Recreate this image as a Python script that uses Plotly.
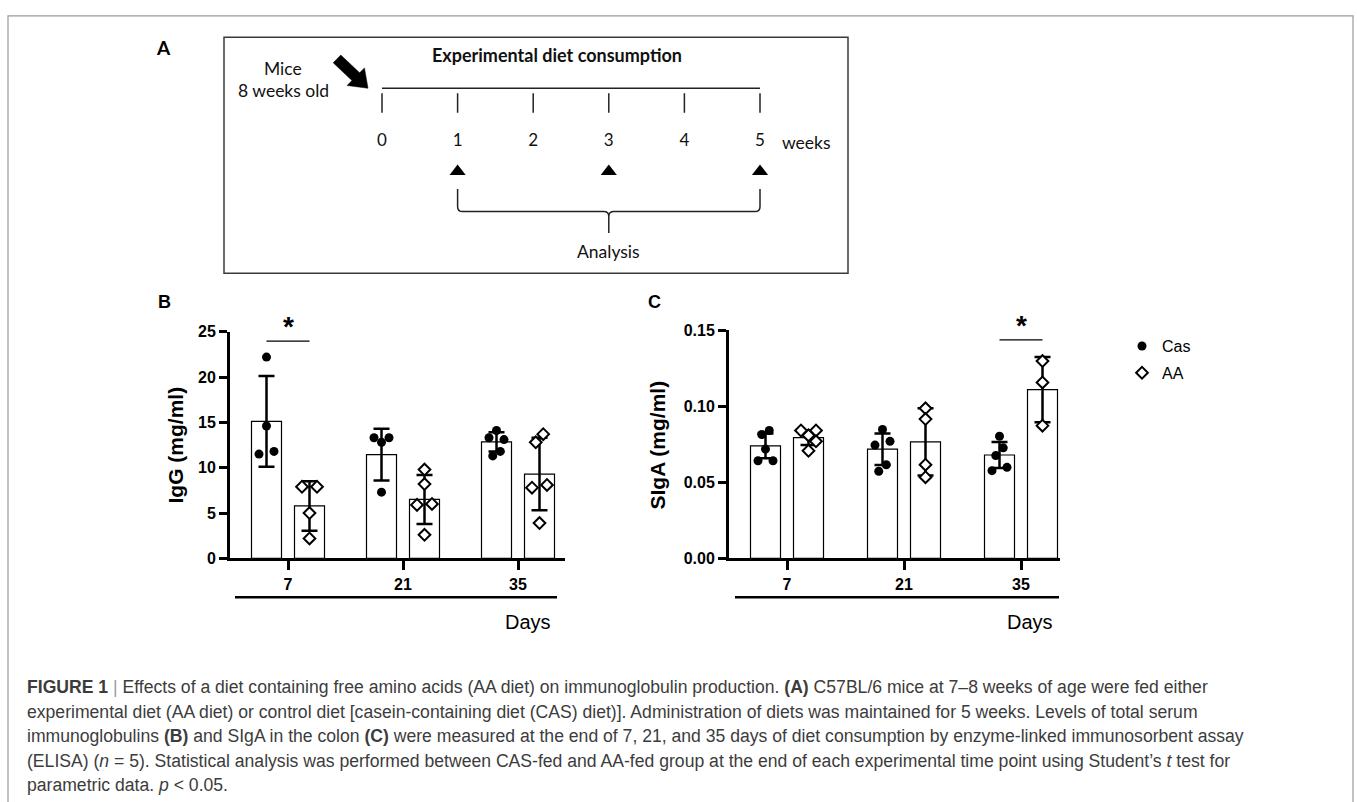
import numpy as np
import plotly.graph_objects as go

# ---------------- data ----------------
days = ["7", "21", "35"]
groups = ["Cas", "AA"]

igg_mean_cas = [15.1, 11.45, 12.85]
igg_sd_cas = [5.0, 2.85, 1.05]
igg_mean_aa = [5.78, 6.5, 9.3]
igg_sd_aa = [2.72, 2.7, 4.0]
igg_pts_cas = [[22.2, 14.6, 11.8, 11.5], [12.8, 13.3, 13.3, 7.3], [14.1, 13.3, 13.1, 11.8, 11.3]]
igg_pts_aa = [[7.9, 7.9, 5.0, 2.2], [9.8, 8.2, 6.0, 5.9, 2.6], [13.7, 12.8, 8.1, 7.8, 3.9]]

siga_mean_cas = [0.0740, 0.0718, 0.0680]
siga_sd_cas = [0.0082, 0.0104, 0.0086]
siga_mean_aa = [0.0794, 0.0766, 0.1110]
siga_sd_aa = [0.0048, 0.0221, 0.0214]
siga_pts_cas = [[0.0841, 0.0815, 0.0719, 0.0642, 0.0642], [0.0848, 0.0770, 0.0745, 0.0616, 0.0573],
                [0.0803, 0.0727, 0.0676, 0.0599, 0.0577]]
siga_pts_aa = [[0.0841, 0.0841, 0.0809, 0.0770, 0.0708], [0.0987, 0.0916, 0.0616, 0.0534],
               [0.1298, 0.1157, 0.0873]]

sig_igg = [True, False, False]
sig_siga = [False, False, True]

weeks = [0, 1, 2, 3, 4, 5]
analysis_weeks = [1, 3, 5]

caption_lines = [
    "<b>FIGURE 1</b> <span style='color:#9a9a9a'>|</span> Effects of a diet containing free amino acids (AA diet) on immunoglobulin production. <b>(A)</b> C57BL/6 mice at 7–8 weeks of age were fed either",
    "experimental diet (AA diet) or control diet [casein-containing diet (CAS) diet)]. Administration of diets was maintained for 5 weeks. Levels of total serum",
    "immunoglobulins <b>(B)</b> and SIgA in the colon <b>(C)</b> were measured at the end of 7, 21, and 35 days of diet consumption by enzyme-linked immunosorbent assay",
    "(ELISA) (<i>n</i> = 5). Statistical analysis was performed between CAS-fed and AA-fed group at the end of each experimental time point using Student’s <i>t</i> test for",
    "parametric data. <i>p</i> &lt; 0.05.",
]

# ---------------- layout helpers ----------------
W, H = 1357, 802
ARIAL = "Liberation Sans, Arial, sans-serif"
CALIBRI = "Lato, Open Sans, sans-serif"


def pxx(x):
    return x / W


def pxy(y):
    return 1 - y / H


fig = go.Figure()
shapes = []
annotations = []


def note(x, y, text, font, **kw):
    d = dict(xref="paper", yref="paper", x=pxx(x), y=pxy(y), text=text, showarrow=False,
             xanchor="center", yanchor="middle", font=font)
    d.update(kw)
    annotations.append(d)


panels = [
    dict(name="B", xa="x", ya="y", xax="xaxis", yax="yaxis", left=230, right=565, tick0=288, unit=115,
         y0=562.3, ytop=330.7, ymax=25, dtick=5, fmt="d", title="IgG (mg/ml)", title_x=176,
         label_x=164, mc=igg_mean_cas, sc=igg_sd_cas, ma=igg_mean_aa, sa=igg_sd_aa,
         pc=igg_pts_cas, pa=igg_pts_aa, sig=sig_igg, days_line=(235, 557), days_x=528, legend=True),
    dict(name="C", xa="x2", ya="y2", xax="xaxis2", yax="yaxis2", left=729, right=1060, tick0=787, unit=117,
         y0=562.3, ytop=329.3, ymax=0.15, dtick=0.05, fmt=".2f", title="SIgA (mg/ml)", title_x=658,
         label_x=654, mc=siga_mean_cas, sc=siga_sd_cas, ma=siga_mean_aa, sa=siga_sd_aa,
         pc=siga_pts_cas, pa=siga_pts_aa, sig=sig_siga, days_line=(735, 1059), days_x=1030, legend=False),
]

BAR_W = 30.0   # px
BAR_OFF = 21.5  # px, bar centre distance from tick


def swarm(vals, ppu, h=7.5, d=8.5):
    vals = list(vals)
    n = len(vals)
    offs = [0.0] * n
    placed = []
    for i in sorted(range(n), key=lambda k: -vals[k]):
        y = vals[i] * ppu
        xo = 0.0
        for k in [0, -1, 1, -2, 2, -3, 3]:
            xo = k * h
            if all(np.hypot(xo - a, y - b) >= d - 1e-6 for a, b in placed):
                break
        placed.append((xo, y))
        offs[i] = xo
    order = sorted(range(n), key=lambda k: vals[k])
    clusters = [[order[0]]]
    for a, b in zip(order[:-1], order[1:]):
        if (vals[b] - vals[a]) * ppu < d:
            clusters[-1].append(b)
        else:
            clusters.append([b])
    for c in clusters:
        o = [offs[i] for i in c]
        sh = -(max(o) + min(o)) / 2
        for i in c:
            offs[i] += sh
    return offs


for p in panels:
    unit = p["unit"]
    ppu = (p["y0"] - p["ytop"]) / p["ymax"]
    idx = np.arange(len(days))
    xr = [(p["left"] - p["tick0"]) / unit, (p["right"] - p["tick0"]) / unit]
    bw = BAR_W / unit
    off = BAR_OFF / unit
    fig.layout[p["xax"]] = dict(
        domain=[pxx(p["left"]), pxx(p["right"])], range=xr, anchor=p["ya"],
        tickvals=list(idx), ticktext=days, showline=True, linewidth=3, linecolor="black",
        ticks="outside", ticklen=9, tickwidth=3, tickcolor="black", showgrid=False, zeroline=False,
        tickfont=dict(family=ARIAL, size=16, color="black", weight="bold"), fixedrange=True)
    fig.layout[p["yax"]] = dict(
        domain=[pxy(p["y0"]), pxy(p["ytop"])], range=[0, p["ymax"]], anchor=p["xa"],
        dtick=p["dtick"], tick0=0, tickformat=p["fmt"], showline=True, linewidth=3, linecolor="black",
        ticks="outside", ticklen=8, tickwidth=3, tickcolor="black", showgrid=False, zeroline=False,
        tickfont=dict(family=ARIAL, size=16, color="black", weight="bold"), fixedrange=True)

    series = [
        ("Cas", -off, p["mc"], p["sc"], p["pc"],
         dict(symbol="circle", size=9, color="black", line=dict(width=0))),
        ("AA", off, p["ma"], p["sa"], p["pa"],
         dict(symbol="diamond", size=9, color="white", line=dict(width=2, color="black"))),
    ]
    for name, o, mean, sd, pts, mk in series:
        fig.add_trace(go.Bar(
            x=idx, y=mean, offset=o - bw / 2, width=bw, xaxis=p["xa"], yaxis=p["ya"],
            marker=dict(color="white", line=dict(color="black", width=1.2)),
            showlegend=False, hoverinfo="skip"))
        fig.add_trace(go.Scatter(
            x=idx + o, y=mean, mode="markers", xaxis=p["xa"], yaxis=p["ya"],
            marker=dict(size=1, opacity=0), showlegend=False, hoverinfo="skip",
            error_y=dict(type="data", array=sd, visible=True, color="black", thickness=2.5, width=8),
            cliponaxis=False))
        xs, ys = [], []
        for g, vals in enumerate(pts):
            offs = swarm(vals, ppu)
            for v, jo in zip(vals, offs):
                xs.append(g + o + jo / unit)
                ys.append(v)
        fig.add_trace(go.Scatter(
            x=xs, y=ys, mode="markers", xaxis=p["xa"], yaxis=p["ya"], marker=mk, name=name,
            showlegend=p["legend"], legendgroup=name, cliponaxis=False))

    # significance
    for g, s in enumerate(p["sig"]):
        if s:
            shapes.append(dict(type="line", xref=p["xa"], yref=p["ya"], x0=g - off, x1=g + off,
                               y0=p["ymax"] * 0.958, y1=p["ymax"] * 0.958,
                               line=dict(color="black", width=1.2)))
            annotations.append(dict(xref=p["xa"], yref=p["ya"], x=g, y=p["ymax"] * 0.995, yshift=6,
                                    text="<b>*</b>", showarrow=False, xanchor="center", yanchor="middle",
                                    font=dict(family=ARIAL, size=28, color="black")))
    # titles and decorations
    note(p["title_x"], 447, "<b>%s</b>" % p["title"], dict(family=ARIAL, size=21, color="black"),
         textangle=-90)
    note(p["label_x"], 300, "<b>%s</b>" % p["name"], dict(family=ARIAL, size=18, color="black"))
    x0l, x1l = p["days_line"]
    shapes.append(dict(type="line", xref="paper", yref="paper", x0=pxx(x0l), x1=pxx(x1l),
                       y0=pxy(602), y1=pxy(602), line=dict(color="black", width=2.5)))
    note(p["days_x"], 627, "Days", dict(family=ARIAL, size=20, color="black"))

# ---------------- panel A (schematic) ----------------
wk0_px, wk_px = 382.0, 75.6
box = (224, 30, 848, 271)
fig.layout["xaxis3"] = dict(domain=[pxx(box[0]), pxx(box[2])],
                            range=[(box[0] - wk0_px) / wk_px, (box[2] - wk0_px) / wk_px],
                            visible=False, anchor="y3", fixedrange=True)
fig.layout["yaxis3"] = dict(domain=[pxy(box[3]), pxy(box[1])], range=[box[3], box[1]],
                            visible=False, anchor="x3", fixedrange=True)
shapes.append(dict(type="rect", xref="paper", yref="paper", x0=pxx(box[0]), x1=pxx(box[2]),
                   y0=pxy(box[1]), y1=pxy(box[3]), line=dict(color="#3a3a3a", width=1.5)))
shapes.append(dict(type="line", xref="x3", yref="y3", x0=weeks[0], x1=weeks[-1], y0=82, y1=82,
                   line=dict(color="#222", width=1.5)))
for w in weeks:
    shapes.append(dict(type="line", xref="x3", yref="y3", x0=w, x1=w, y0=87, y1=107,
                       line=dict(color="#222", width=1.5)))
fig.add_trace(go.Scatter(x=weeks, y=[137] * len(weeks), text=[str(w) for w in weeks], mode="text",
                         xaxis="x3", yaxis="y3", showlegend=False, hoverinfo="skip",
                         textfont=dict(family=CALIBRI, size=17, color="#111")))
fig.add_trace(go.Scatter(x=analysis_weeks, y=[167] * len(analysis_weeks), mode="markers",
                         xaxis="x3", yaxis="y3", showlegend=False, hoverinfo="skip",
                         marker=dict(symbol="triangle-up", size=14, color="black")))
annotations.append(dict(xref="x3", yref="y3", x=weeks[-1], y=137, xshift=20, xanchor="left",
                        yanchor="middle", text="weeks", showarrow=False,
                        font=dict(family=CALIBRI, size=17.5, color="#111")))
# brace
a0, am, a1 = analysis_weeks[0], analysis_weeks[len(analysis_weeks) // 2], analysis_weeks[-1]
r = 5 / wk_px
brace = (f"M {a0},185 L {a0},203 Q {a0},208 {a0 + r},208 L {am - r},208 Q {am},208 {am},213 "
         f"L {am},230 M {am},213 Q {am},208 {am + r},208 L {a1 - r},208 Q {a1},208 {a1},203 L {a1},185")
shapes.append(dict(type="path", xref="x3", yref="y3", path=brace, line=dict(color="#222", width=1.5)))
annotations.append(dict(xref="x3", yref="y3", x=am, y=249, text="Analysis", showarrow=False,
                        xanchor="center", yanchor="middle",
                        font=dict(family=CALIBRI, size=17.5, color="#111")))
note(557, 48, "<b>Experimental diet consumption</b>", dict(family=CALIBRI, size=18, color="#111"))
note(283, 62, "Mice", dict(family=CALIBRI, size=17.5, color="#111"))
note(283, 84, "8 weeks old", dict(family=CALIBRI, size=17.5, color="#111"))
note(163, 40, "<b>A</b>", dict(family=CALIBRI, size=19, color="black"))
# block arrow
tail = np.array([337.0, 52.0])
tip = np.array([368.0, 82.0])
u = (tip - tail) / np.linalg.norm(tip - tail)
nrm = np.array([-u[1], u[0]])
neck = tip - u * 17
pts = [tail + nrm * 5.5, neck + nrm * 5.5, neck + nrm * 12.5, tip, neck - nrm * 12.5,
       neck - nrm * 5.5, tail - nrm * 5.5]
path = "M " + " L ".join(f"{pxx(q[0]):.5f},{pxy(q[1]):.5f}" for q in pts) + " Z"
shapes.append(dict(type="path", xref="paper", yref="paper", path=path, fillcolor="black",
                   line=dict(color="black", width=0.5)))

# ---------------- caption & frame ----------------
for i, line in enumerate(caption_lines):
    note(25, 694 + 25 * i, line, dict(family=ARIAL, size=17.6, color="#3c3c3c"),
         xanchor="left", align="left")
shapes.append(dict(type="rect", xref="paper", yref="paper", x0=pxx(8), x1=pxx(1353), y0=pxy(8),
                   y1=pxy(812), line=dict(color="#9a9a9a", width=1.2)))

fig.update_layout(
    width=W, height=H, margin=dict(l=0, r=0, t=0, b=0), autosize=False,
    paper_bgcolor="white", plot_bgcolor="white", barmode="overlay",
    shapes=shapes, annotations=annotations,
    legend=dict(x=pxx(1122), y=pxy(328), xanchor="left", yanchor="top", tracegroupgap=3,
                font=dict(family=ARIAL, size=16, color="black"), bgcolor="rgba(0,0,0,0)",
                traceorder="grouped"),
)

fig.write_html("out.html", config={"displayModeBar": False},
               post_script="document.body.style.margin='0';document.body.style.overflow='hidden';")
